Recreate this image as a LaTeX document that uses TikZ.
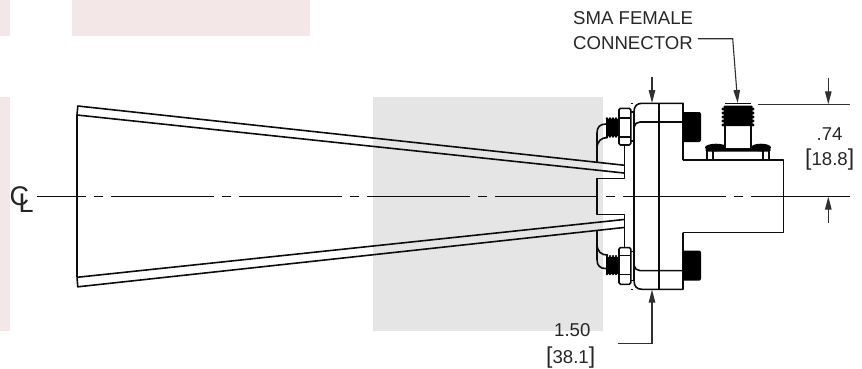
\documentclass[tikz,border=0pt]{standalone}
\usepackage{fontspec}
\setmainfont{Liberation Sans}
\usetikzlibrary{arrows.meta}
\definecolor{pinkbg}{HTML}{F4E7E8}
\definecolor{greybg}{HTML}{E5E5E5}
\definecolor{inkc}{HTML}{0C0C0C}
\definecolor{textc}{HTML}{262626}
\tikzset{
  part/.style={draw=inkc,line width=1.6pt,line join=round},
  thin part/.style={draw=inkc,line width=1.2pt},
  dimline/.style={draw=inkc!85!white,line width=1.1pt},
  dimarrow/.style={dimline,-{Stealth[length=13pt,width=6.5pt,inset=0pt]}},
  lbl/.style={anchor=base west,inner sep=0pt,text=textc,font=\fontsize{18.6}{25}\selectfont},
  blackfill/.style={fill=black,draw=none},
}
\newcommand{\brk}[1]{{\fontsize{23}{23}\selectfont\raisebox{-0.4pt}{#1}}}
\newcommand{\boltassy}{%
  % flange corner, inner line, knob
  \draw[part] (634,197) -- (634,112) .. controls (634,106) and (637,103.3) .. (642,103.3) -- (683,103.3) -- (683,160);
  \draw[part] (634,127) .. controls (634.5,124) and (637,122) .. (640,122) -- (683,122);
  \fill[blackfill,rounded corners=2pt] (682.5,112) rectangle (701,142);
  % elbow lines
  \draw[part] (597,162) -- (597,133) .. controls (597,127) and (600,124) .. (606,124);
  \draw[part] (597,149) .. controls (597,141) and (601,137.5) .. (608,137.5);
  % threaded stud
  \fill[blackfill] (606,119) rectangle (619,136);
  \foreach \px in {607,610,613,616}{
    \fill[blackfill] (\px,118.5) circle (1.3pt);
    \fill[blackfill] (\px,136.5) circle (1.3pt);
  }
  % nut
  \draw[part,fill=white,rounded corners=1.5pt] (619,108.3) rectangle (630.8,145);
  \draw[part] (619,118) -- (630.8,118);
  \draw[part] (619,137) -- (630.8,137);
  \draw[thin part] (631,112) -- (634,112);
  \draw[thin part] (631,141) -- (634,141);
  \draw[draw=inkc,line width=.7pt] (630.5,103.3) -- (633,103.3);
  % neck
  \draw[part] (624.3,145) -- (624.3,178.3) -- (596.8,178.3) -- (596.8,196.3);
}
\begin{document}
\begin{tikzpicture}[x=1pt,y=-1pt]
\useasboundingbox (0,0) rectangle (862,368);
% background patches
\fill[pinkbg] (0,0) rectangle (9.5,36);
\fill[pinkbg] (72,0) rectangle (310,36);
\fill[pinkbg] (0,97.3) rectangle (9.5,331);
\fill[greybg] (372.8,97.3) rectangle (602.8,330.8);
% centre line
\draw[draw=inkc,line width=1.1pt,dash pattern=on 103pt off 8pt on 9pt off 8pt,dash phase=54pt] (37,196.3) -- (850,196.3);
% horn
\draw[part] (77,115) -- (77,277.3);
\draw[part] (77,115) -- (77.8,106) -- (624,165.2);
\draw[part] (77,115) -- (624,173);
\draw[part] (77,277.3) -- (77.8,286.8) -- (624,227.5);
\draw[part] (77,277.3) -- (624,219.5);
% flange and body
\draw[part] (659,103.3) -- (659,289.3);
\draw[part] (683,160) -- (783.5,160) -- (783.5,232.6) -- (683,232.6);
\boltassy
\begin{scope}[shift={(0,392.6)},yscale=-1]
\boltassy
\end{scope}
% SMA connector
\draw[part] (707,151) -- (707,160);
\draw[part] (713,151) -- (713,160);
\draw[part] (763,151) -- (763,160);
\draw[part] (769,151) -- (769,160);
\fill[blackfill,rounded corners=1pt] (705.5,148.5) rectangle (770.5,151.5);
\fill[blackfill] (716,147.5) ellipse (11pt and 3.8pt);
\fill[blackfill] (761,147.5) ellipse (10pt and 3.8pt);
\draw[part,fill=white] (725,125) rectangle (751,148.5);
\fill[blackfill,rounded corners=1pt] (723.5,105.5) rectangle (752.5,126);
\foreach \py in {109,113,117,121,125}{
  \fill[blackfill] (723,\py) circle (1.6pt);
  \fill[blackfill] (753,\py) circle (1.6pt);
}
\draw[draw=inkc,line width=.9pt] (725,103.8) -- (751,103.8);
% texts
\node[lbl] (smaa) at (573,24) {SMA FEMALE};
\node[lbl] (smab) at (573,49) {CONNECTOR};
\node[lbl] (dima) at (816.5,140) {.74};
\node[lbl] (dimb) at (805,165) {\brk{[}18.8\brk{]}};
\node[lbl] (dimc) at (554,336) {1.50};
\node[lbl] (dimd) at (546,363) {\brk{[}38.1\brk{]}};
\node[anchor=base west,inner sep=0pt,text=textc,font=\fontsize{27}{27}\selectfont] (cl) at (9.5,205) {C\kern-10.5pt\raisebox{-7.6pt}{L}};
% leader and dimensions
\coordinate (leaderknee) at (732.7,38.7);
\coordinate (plugtop) at (737.7,103);
\coordinate (flangetop) at (652,103);
\coordinate (flangebot) at (652,289.6);
\coordinate (dimtop) at (828.3,104.3);
\coordinate (dimcl) at (828.3,196.6);
\draw[dimarrow] ([xshift=5pt]smab.east |- leaderknee) -- (leaderknee) -- (plugtop);
\draw[dimarrow] (652,76.7) -- (flangetop);
\draw[dimarrow] (617.7,343.3) -- (652,343.3) -- (flangebot);
\draw[dimline] (757.7,104.3) -- (850,104.3);
\draw[dimarrow] (828.3,77.7) -- (dimtop);
\draw[dimarrow] (828.3,223) -- (dimcl);
\end{tikzpicture}
\end{document}
